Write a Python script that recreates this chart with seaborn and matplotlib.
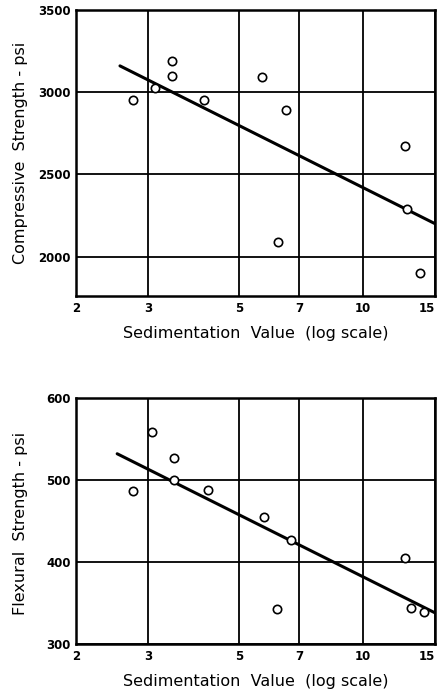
import matplotlib
matplotlib.use("Agg")
import matplotlib.pyplot as plt
import seaborn as sns
import pandas as pd

# ---- data ----
comp_x = [2.75, 3.12, 3.43, 3.43, 4.1, 5.69, 6.5, 6.22, 12.7, 12.8, 13.8]
comp_y = [2950, 3025, 3190, 3100, 2950, 3090, 2890, 2090, 2670, 2290, 1900]
comp_fit_x = [2.56, 15.0]
comp_fit_y = [3160, 2200]

flex_x = [2.75, 3.07, 3.47, 3.47, 4.2, 5.76, 6.7, 6.17, 12.67, 13.1, 14.1]
flex_y = [487, 558, 527, 500, 488, 455, 427, 343, 405, 344, 339]
flex_fit_x = [2.52, 15.0]
flex_fit_y = [532, 338]

x_ticks = [2, 3, 5, 7, 10, 15]
x_tick_labels = ["2", "3", "5", "7", "10", "15"]
comp_yticks = [2000, 2500, 3000, 3500]
flex_yticks = [300, 400, 500, 600]

sns.set_style("white")
plt.rcParams['font.family'] = ['DejaVu Sans']
plt.rcParams['text.color'] = 'black'
plt.rcParams['axes.labelcolor'] = 'black'
plt.rcParams['xtick.color'] = 'black'
plt.rcParams['ytick.color'] = 'black'

fig = plt.figure(figsize=(4.4, 6.93), dpi=100)
ax1 = fig.add_axes([76/440, 1-296/693, (435-76)/440, (296-10)/693])
ax2 = fig.add_axes([76/440, 1-644/693, (435-76)/440, (644-398)/693])

def style(ax, yticks, ylim, ylabel, xs, ys, fx, fy, label_y):
    df = pd.DataFrame({"x": xs, "y": ys})
    fit = pd.DataFrame({"x": fx, "y": fy})
    sns.lineplot(data=fit, x="x", y="y", ax=ax, color="black", linewidth=2.2)
    sns.scatterplot(data=df, x="x", y="y", ax=ax, marker="o", s=36,
                    facecolor="white", edgecolor="black", linewidth=1.2, zorder=3)
    ax.set_xscale("log")
    ax.set_xlim(2, 15)
    ax.set_ylim(*ylim)
    ax.set_xticks(x_ticks)
    ax.set_xticklabels(x_tick_labels)
    ax.xaxis.set_minor_locator(matplotlib.ticker.NullLocator())
    ax.set_yticks(yticks)
    ax.set_yticklabels([str(v) for v in yticks])
    ax.tick_params(axis="x", length=0, labelsize=8.5, pad=4, labelcolor="black")
    ax.tick_params(axis="y", length=0, labelsize=8.5, pad=4, labelcolor="black")
    for lbl in ax.get_xticklabels() + ax.get_yticklabels():
        lbl.set_fontweight("bold")
    ax.get_xticklabels()[-1].set_horizontalalignment("right")
    ax.grid(True, color="black", linewidth=1.3)
    for s in ax.spines.values():
        s.set_linewidth(1.8)
        s.set_color("black")
    ax.set_xlabel("Sedimentation  Value  (log scale)", fontsize=11.5, labelpad=8,
                  color="black")
    ax.set_ylabel(ylabel, fontsize=11.5, color="black")
    ax.yaxis.set_label_coords(-0.135, label_y)

style(ax1, comp_yticks, (1760, 3500), "Compressive  Strength - psi",
      comp_x, comp_y, comp_fit_x, comp_fit_y, 0.5)
style(ax2, flex_yticks, (300, 600), "Flexural  Strength - psi",
      flex_x, flex_y, flex_fit_x, flex_fit_y, 0.49)

fig.savefig("out.png", dpi=100)
